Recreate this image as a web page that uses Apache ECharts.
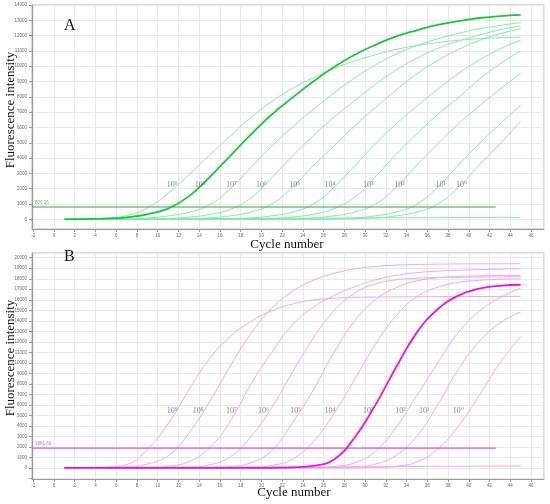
<!DOCTYPE html>
<html lang="en">
<head>
    <meta charset="UTF-8">
    <title>qPCR amplification curves</title>
    <script src="https://cdn.jsdelivr.net/npm/echarts@6/dist/echarts.min.js"></script>
    <style>
        html, body { margin: 0; padding: 0; background: #fff; }
        #chart { width: 550px; height: 504px; }
    </style>
</head>
<body>
    <div id="chart"></div>
    <script>
        // cycles sampled every 2 cycles
        const cycles = [1, 3, 5, 7, 9, 11, 13, 15, 17, 19, 21, 23, 25, 27, 29, 31, 33, 35, 37, 39, 41, 43, 45];

        // panel A (green), one array per dilution
        const a9 = [0, 20, 80, 250, 750, 1700, 2900, 4200, 5450, 6650, 7700, 8550, 9250, 9850, 10350, 10750, 11100, 11350, 11550, 11700, 11800, 11860, 11900];
        const a8 = [0, 20, 50, 130, 330, 700, 1500, 2750, 4150, 5550, 6850, 7950, 9000, 9950, 10750, 11400, 11950, 12350, 12700, 12950, 13150, 13280, 13350];
        const a7 = [0, 0, 10, 35, 90, 220, 460, 950, 2000, 3400, 4780, 6040, 7180, 8250, 9240, 10090, 10800, 11350, 11790, 12150, 12450, 12660, 12850];
        const a6 = [0, 0, 0, 0, 20, 50, 145, 320, 650, 1400, 2730, 4140, 5460, 6680, 7750, 8820, 9750, 10530, 11160, 11650, 12040, 12380, 12630];
        const a5 = [0, 0, 0, 0, 0, 10, 35, 95, 230, 480, 1000, 2100, 3500, 4800, 6100, 7300, 8450, 9500, 10380, 11100, 11680, 12120, 12460];
        const a4 = [0, 0, 0, 0, 0, 0, 0, 10, 35, 95, 230, 480, 1000, 2100, 3500, 4930, 6230, 7400, 8500, 9530, 10400, 11130, 11700];
        const a3 = [0, 0, 0, 0, 0, 0, 0, 0, 0, 20, 50, 150, 330, 700, 1450, 2800, 4250, 5600, 6850, 7950, 9150, 10150, 11000];
        const a2 = [0, 0, 0, 0, 0, 0, 0, 0, 0, 0, 10, 35, 95, 230, 480, 1000, 2100, 3550, 4930, 6230, 7400, 8500, 9540];
        const a1 = [0, 0, 0, 0, 0, 0, 0, 0, 0, 0, 0, 0, 10, 35, 95, 230, 480, 1000, 2100, 3550, 4930, 6230, 7450];
        const a0 = [0, 0, 0, 0, 0, 0, 0, 0, 0, 0, 0, 0, 0, 10, 35, 95, 230, 480, 1000, 2100, 3550, 4930, 6400];
        const aNeg = [0, 5, 10, 15, 20, 30, 35, 45, 50, 60, 65, 75, 80, 85, 95, 100, 105, 110, 115, 120, 125, 128, 130];
        const thresholdA = 806.16;

        // panel B (magenta)
        const b9 = [0, 20, 80, 320, 1750, 4200, 7400, 10400, 12500, 13950, 14950, 15600, 15980, 16150, 16230, 16260, 16280, 16290, 16300, 16305, 16310, 16315, 16320];
        const b8 = [0, 10, 40, 100, 370, 1150, 3300, 6300, 9700, 12780, 15200, 16800, 17850, 18500, 18930, 19170, 19300, 19360, 19390, 19410, 19420, 19425, 19430];
        const b7 = [0, 0, 10, 20, 50, 170, 600, 1900, 4450, 8000, 11000, 13600, 15300, 16400, 17250, 17900, 18320, 18580, 18720, 18810, 18870, 18920, 18950];
        const b6 = [0, 0, 0, 5, 15, 40, 90, 300, 1050, 3000, 5750, 9130, 12350, 14950, 16650, 17500, 17900, 18050, 18120, 18150, 18170, 18180, 18200];
        const b5 = [0, 0, 0, 0, 0, 5, 12, 40, 140, 500, 1650, 4300, 7400, 11000, 14000, 16000, 17150, 17800, 18080, 18220, 18280, 18310, 18320];
        const b4 = [0, 0, 0, 0, 0, 0, 5, 10, 20, 70, 240, 850, 2490, 5180, 8450, 11750, 14500, 16300, 17200, 17650, 17850, 17950, 18000];
        const b3 = [0, 0, 0, 0, 0, 0, 0, 0, 5, 10, 20, 60, 200, 800, 2900, 6000, 9600, 12900, 15100, 16400, 17050, 17330, 17430];
        const b2 = [0, 0, 0, 0, 0, 0, 0, 0, 0, 0, 5, 12, 40, 140, 490, 1580, 3900, 6900, 10000, 12900, 14900, 16200, 17110];
        const b1 = [0, 0, 0, 0, 0, 0, 0, 0, 0, 0, 0, 0, 10, 40, 100, 370, 1200, 3050, 6000, 9400, 12000, 13800, 14830];
        const b0 = [0, 0, 0, 0, 0, 0, 0, 0, 0, 0, 0, 0, 0, 0, 12, 45, 160, 570, 1800, 4000, 6900, 10000, 12510];
        const bNeg = [0, 8, 15, 25, 30, 40, 50, 55, 65, 75, 80, 90, 100, 105, 115, 120, 130, 140, 150, 160, 170, 180, 190];
        const thresholdB = 1881.66;

        // threshold line runs from the axis start to this cycle
        const thresholdEnd = 42.6;

        // dilution labels
        const labelText = ['10⁹', '10⁸', '10⁷', '10⁶', '10⁵', '10⁴', '10³', '10²', '10¹', '10⁰'];
        const labelCycA = [11.4, 14.1, 17.1, 20.0, 23.2, 26.6, 30.3, 33.3, 37.3, 39.3];
        const labelLevelA = 2250;
        const labelCycB = [11.4, 13.9, 17.1, 20.2, 23.3, 26.6, 30.3, 33.4, 35.7, 39.0];
        const labelLevelB = 5400;

        const GREEN = '#85e9a6', GREEN_BOLD = '#17c83a', GREEN_THR = '#3d9e50';
        const PINK = '#f5a3f1', PINK_BOLD = '#ee12df', PINK_THR = '#ea4fdc';
        const serif = '"Liberation Serif", "DejaVu Serif", serif';

        const xMin = -2.12, xMax = 47.25;

        function curve(values, idx, color, bold) {
            return {
                type: 'line',
                xAxisIndex: idx,
                yAxisIndex: idx,
                data: cycles.map((c, i) => [c, values[i]]),
                smooth: 0.45,
                showSymbol: false,
                silent: true,
                z: bold ? 6 : 3,
                lineStyle: { color: color, width: bold ? 1.8 : 1 }
            };
        }

        function threshold(value, idx, color) {
            return {
                type: 'line',
                xAxisIndex: idx,
                yAxisIndex: idx,
                data: [[xMin, value], [thresholdEnd, value]],
                showSymbol: false,
                silent: true,
                z: 4,
                lineStyle: { color: color, width: 1.2 }
            };
        }

        // invisible points carrying text labels
        function textMarks(points, texts, idx, style) {
            return {
                type: 'scatter',
                xAxisIndex: idx,
                yAxisIndex: idx,
                data: points,
                symbolSize: 1,
                itemStyle: { color: 'rgba(0,0,0,0)' },
                silent: true,
                z: 7,
                label: Object.assign({ show: true, formatter: p => texts[p.dataIndex] }, style)
            };
        }

        const dilutionStyle = { position: 'inside', fontFamily: serif, fontSize: 8, color: '#666' };
        const thrStyle = { position: 'top', align: 'left', distance: 1, offset: [3, 0], fontSize: 4.5, color: '#777' };

        function xAxis(idx) {
            return {
                type: 'value',
                gridIndex: idx,
                min: xMin,
                max: xMax,
                splitNumber: 25,
                axisLine: { onZero: false, lineStyle: { color: '#999', width: 1 } },
                axisTick: { length: 3, lineStyle: { color: '#999' } },
                axisLabel: { fontSize: 4.5, color: '#666', margin: 4, showMinLabel: false, showMaxLabel: false },
                splitLine: { show: true, lineStyle: { color: '#e8e8e8', width: 1 } }
            };
        }

        function yAxis(idx, min, max, split) {
            return {
                type: 'value',
                gridIndex: idx,
                min: min,
                max: max,
                splitNumber: split,
                axisLine: { show: true, onZero: false, lineStyle: { color: '#999', width: 1 } },
                axisTick: { show: true, length: 3, lineStyle: { color: '#999' } },
                axisLabel: {
                    fontSize: 4.5, color: '#666', margin: 5,
                    formatter: v => (v < 0 ? '' : String(v)),
                    showMinLabel: false, showMaxLabel: idx === 0
                },
                splitLine: { show: true, lineStyle: { color: '#e8e8e8', width: 1 } }
            };
        }

        const chart = echarts.init(document.getElementById('chart'), null, { renderer: 'canvas' });

        const seriesA = [aNeg, a0, a1, a2, a3, a4, a5, a6, a7, a9].map(v => curve(v, 0, GREEN, false));
        const seriesB = [bNeg, b0, b1, b2, b4, b5, b6, b7, b8, b9].map(v => curve(v, 1, PINK, false));

        const option = {
            animation: false,
            grid: [
                { left: 32, top: 5, width: 512, height: 224, show: true, borderColor: '#b5b5b5', borderWidth: 1, backgroundColor: '#fff' },
                { left: 32, top: 253, width: 512, height: 226, show: true, borderColor: '#b5b5b5', borderWidth: 1, backgroundColor: '#fff' }
            ],
            xAxis: [xAxis(0), xAxis(1)],
            yAxis: [yAxis(0, -630, 14000, 14), yAxis(1, -1050, 20450, 20)],
            series: [
                ...seriesA,
                curve(a8, 0, GREEN_BOLD, true),
                threshold(thresholdA, 0, GREEN_THR),
                textMarks(labelCycA.map(c => [c, labelLevelA]), labelText, 0, dilutionStyle),
                textMarks([[xMin, thresholdA]], [thresholdA.toFixed(2)], 0, thrStyle),
                ...seriesB,
                curve(b3, 1, PINK_BOLD, true),
                threshold(thresholdB, 1, PINK_THR),
                textMarks(labelCycB.map(c => [c, labelLevelB]), labelText, 1, dilutionStyle),
                textMarks([[xMin, thresholdB]], [thresholdB.toFixed(2)], 1, thrStyle)
            ],
            graphic: [
                { type: 'text', left: 64, top: 18, z: 10, style: { text: 'A', font: '16px ' + serif, fill: '#111' } },
                { type: 'text', left: 64, top: 249, z: 10, style: { text: 'B', font: '16px ' + serif, fill: '#111' } },
                { type: 'text', x: 287, y: 245, z: 10, style: { text: 'Cycle number', font: '13px ' + serif, fill: '#111', align: 'center', verticalAlign: 'middle' } },
                { type: 'text', x: 294, y: 493, z: 10, style: { text: 'Cycle number', font: '13px ' + serif, fill: '#111', align: 'center', verticalAlign: 'middle' } },
                { type: 'text', x: 11, y: 110, rotation: Math.PI / 2, z: 10, style: { text: 'Fluorescence intensity', font: '13px ' + serif, fill: '#111', align: 'center', verticalAlign: 'middle' } },
                { type: 'text', x: 11, y: 358, rotation: Math.PI / 2, z: 10, style: { text: 'Fluorescence intensity', font: '13px ' + serif, fill: '#111', align: 'center', verticalAlign: 'middle' } }
            ]
        };
        chart.setOption(option);
    </script>
</body>
</html>
